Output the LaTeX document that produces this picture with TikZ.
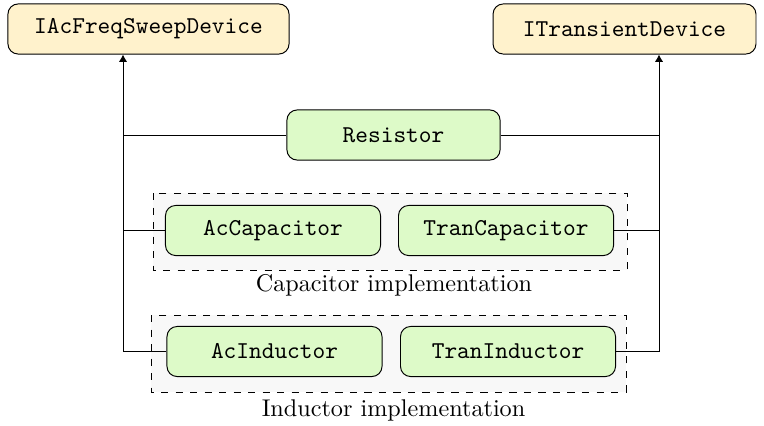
\documentclass[tikz,border=0pt]{standalone}
\usetikzlibrary{arrows.meta}
\definecolor{ifacefill}{RGB}{255,242,204}
\definecolor{implfill}{RGB}{221,250,200}
\definecolor{groupfill}{RGB}{248,248,248}
\begin{document}
\begin{tikzpicture}[x=0.4134pt,y=-0.4134pt,
  iface/.style={draw, rounded corners=4.2pt, fill=ifacefill, font=\ttfamily,
    minimum height=20.7pt, inner sep=0pt},
  impl/.style={draw, rounded corners=4.2pt, fill=implfill, font=\ttfamily,
    minimum height=20.7pt, minimum width=88.9pt, inner sep=0pt},
  group/.style={draw, dashed, thin, fill=groupfill},
  conn/.style={draw, line width=0.4pt},
  arr/.style={conn, -{Latex[length=3pt,width=3.4pt]}}]
\useasboundingbox (0,0) rectangle (764,425);

% implementation groups
\draw[group] (153,193) rectangle (627,270);
\draw[group] (151,315) rectangle (626,392);
\node (caplbl) at (394,285.5) {Capacitor implementation};
\node (indlbl) at (393.5,410) {Inductor implementation};

% interfaces
\node[iface, minimum width=116.2pt] (iac) at (148.5,29) {IAcFreqSweepDevice};
\node[iface, minimum width=108.7pt] (itr) at (624.5,29) {ITransientDevice};

% implementations
\node[impl, minimum width=88.1pt] (res) at (393.5,135) {Resistor};
\node[impl] (accap) at (273,230.5) {AcCapacitor};
\node[impl] (trcap) at (506,230.5) {TranCapacitor};
\node[impl] (acind) at (274.5,351.5) {AcInductor};
\node[impl] (trind) at (508,351.5) {TranInductor};

% connector buses
\coordinate (lbus) at (123,351.5);
\coordinate (rbus) at (659,351.5);

\draw[arr] (acind.west) -- (lbus) -- (lbus |- iac.south);
\draw[conn] (res.west) -- (res.west -| lbus);
\draw[conn] (accap.west) -- (accap.west -| lbus);

\draw[arr] (trind.east) -- (rbus) -- (rbus |- itr.south);
\draw[conn] (res.east) -- (res.east -| rbus);
\draw[conn] (trcap.east) -- (trcap.east -| rbus);
\end{tikzpicture}
\end{document}
